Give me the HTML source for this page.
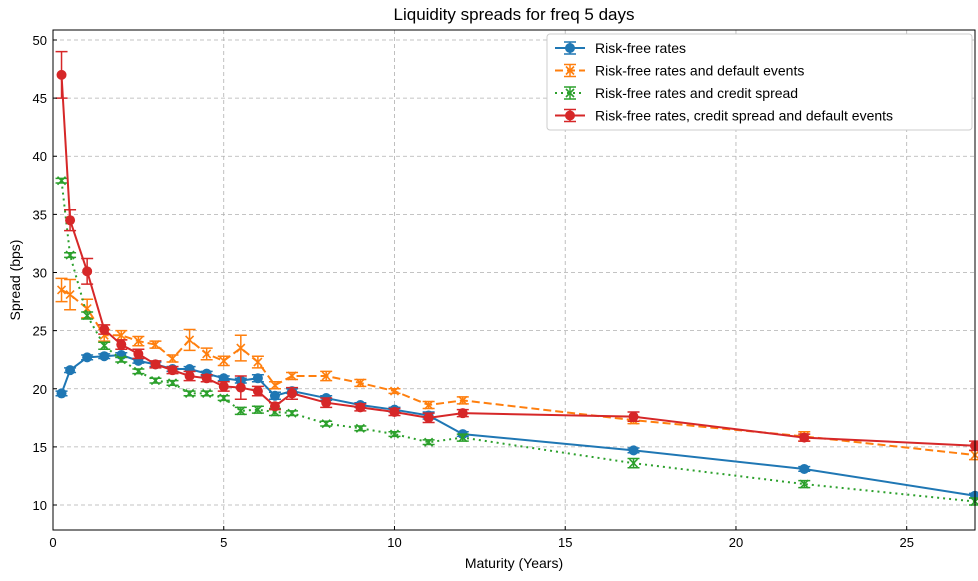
<!DOCTYPE html>
<html><head><meta charset="utf-8"><style>
body{margin:0;background:#fff;font-family:"Liberation Sans","DejaVu Sans",sans-serif}
svg text{font-family:"Liberation Sans","DejaVu Sans",sans-serif;fill:#000}
</style></head><body>
<svg id="chart" width="978" height="576" xmlns="http://www.w3.org/2000/svg">
<text x="514" y="20" font-size="17" text-anchor="middle">Liquidity spreads for freq 5 days</text>
<g id="grid"></g><g id="series"></g><g id="axes"></g>
<text x="514" y="568" font-size="14" text-anchor="middle">Maturity (Years)</text>
<text transform="translate(20,280) rotate(-90)" font-size="14" text-anchor="middle">Spread (bps)</text>
<g id="legend"></g>
</svg>
<script>
const maturities=[0.25,0.5,1,1.5,2,2.5,3,3.5,4,4.5,5,5.5,6,6.5,7,8,9,10,11,12,17,22,27];
const riskFree=[19.6,21.6,22.7,22.8,22.9,22.4,22.1,21.7,21.7,21.3,20.9,20.7,20.9,19.4,19.8,19.2,18.6,18.2,17.7,16.1,14.7,13.1,10.8];
const riskFreeErr=[0.2,0.2,0.2,0.2,0.2,0.2,0.2,0.2,0.2,0.2,0.2,0.2,0.3,0.3,0.2,0.2,0.2,0.2,0.3,0.2,0.2,0.2,0.2];
const defaultEv=[28.5,28.1,26.9,24.6,24.6,24.1,23.8,22.6,24.2,23.0,22.4,23.5,22.3,20.3,21.1,21.1,20.5,19.8,18.6,19.0,17.3,15.9,14.3];
const defaultErr=[1.0,1.3,0.8,0.5,0.4,0.4,0.3,0.3,0.9,0.5,0.4,1.1,0.5,0.3,0.3,0.4,0.3,0.2,0.3,0.3,0.3,0.4,0.4];
const creditSp=[37.9,31.5,26.3,23.7,22.5,21.5,20.7,20.5,19.6,19.6,19.2,18.1,18.2,18.0,17.9,17.0,16.6,16.1,15.4,15.8,13.6,11.8,10.3];
const creditErr=[0.2,0.2,0.3,0.3,0.2,0.2,0.2,0.2,0.2,0.2,0.2,0.3,0.3,0.3,0.2,0.2,0.2,0.2,0.2,0.3,0.4,0.3,0.3];
const allCombo=[47.0,34.5,30.1,25.1,23.8,23.0,22.1,21.6,21.1,20.9,20.2,20.1,19.8,18.5,19.6,18.8,18.4,18.0,17.5,17.9,17.6,15.8,15.1];
const allErr=[2.0,0.9,1.1,0.4,0.4,0.4,0.3,0.3,0.4,0.3,0.4,1.0,0.4,0.3,0.5,0.4,0.3,0.3,0.4,0.3,0.4,0.3,0.4];
const xTicks=[0,5,10,15,20,25];
const yTicks=[10,15,20,25,30,35,40,45,50];
const NS="http://www.w3.org/2000/svg";
const L=53,R=975,T=30,B=530,X0=0,X1=27,Y0=7.85,Y1=50.86;
const sx=v=>L+(v-X0)/(X1-X0)*(R-L), sy=v=>B-(v-Y0)/(Y1-Y0)*(B-T);
function mk(tag,attrs,parent){const e=document.createElementNS(NS,tag);for(const k in attrs)e.setAttribute(k,attrs[k]);parent.appendChild(e);return e;}
const grid=document.getElementById('grid'),axes=document.getElementById('axes'),ser=document.getElementById('series'),leg=document.getElementById('legend');
xTicks.forEach(t=>{
 const g=mk('line',{x1:sx(t),x2:sx(t),y1:T,y2:B,stroke:'#b0b0b0','stroke-dasharray':'4,3','stroke-width':0.8},grid);
 
 mk('line',{x1:sx(t),x2:sx(t),y1:B,y2:B-4,stroke:'#000'},axes);
 const tx=mk('text',{x:sx(t),y:B+17,'font-size':13,'text-anchor':'middle'},axes);tx.textContent=t;
 
});
yTicks.forEach(t=>{
 const g=mk('line',{x1:L,x2:R,y1:sy(t),y2:sy(t),stroke:'#b0b0b0','stroke-dasharray':'4,3','stroke-width':0.8},grid);
 
 mk('line',{x1:L,x2:L+4,y1:sy(t),y2:sy(t),stroke:'#000'},axes);
 const tx=mk('text',{x:L-6,y:sy(t)+5,'font-size':13,'text-anchor':'end'},axes);tx.textContent=t;
 
});
const fr=mk('rect',{x:L,y:T,width:R-L,height:B-T,fill:'none',stroke:'#000','stroke-width':1},axes);

function marker(g,x,y,type,c){
 if(type==='o')mk('circle',{cx:x,cy:y,r:5,fill:c},g);
 else{mk('path',{d:`M${x-4},${y-4}L${x+4},${y+4}M${x-4},${y+4}L${x+4},${y-4}`,stroke:c,'stroke-width':1.6},g);}
}
const series=[
 {name:'Risk-free rates',v:riskFree,e:riskFreeErr,c:'#1f77b4',dash:'',m:'o',id:'risk-free'},
 {name:'Risk-free rates and default events',v:defaultEv,e:defaultErr,c:'#ff7f0e',dash:'8,4',m:'x',id:'default-events'},
 {name:'Risk-free rates and credit spread',v:creditSp,e:creditErr,c:'#2ca02c',dash:'2,4',m:'x',id:'credit-spread'},
 {name:'Risk-free rates, credit spread and default events',v:allCombo,e:allErr,c:'#d62728',dash:'',m:'o',id:'credit-default'}];
series.forEach(s=>{
 const g=mk('g',{},ser);
 
 const pts=maturities.map((m,i)=>sx(m)+','+sy(s.v[i])).join(' ');
 mk('polyline',{points:pts,fill:'none',stroke:s.c,'stroke-width':2,'stroke-dasharray':s.dash},g);
 maturities.forEach((m,i)=>{
  const x=sx(m),y1=sy(s.v[i]-s.e[i]),y2=sy(s.v[i]+s.e[i]);
  mk('path',{d:`M${x},${y1}L${x},${y2}M${x-6},${y1}L${x+6},${y1}M${x-6},${y2}L${x+6},${y2}`,stroke:s.c,'stroke-width':1.5},g);
  const p=mk('g',{},g);
  
  marker(p,x,sy(s.v[i]),s.m,s.c);
 });
});
mk('rect',{x:547,y:34,width:425,height:96,fill:'#fff',stroke:'#ccc',rx:3},leg);
series.forEach((s,i)=>{
 const y=48+i*22.5;const g=mk('g',{},leg);
 
 mk('line',{x1:555,x2:585,y1:y,y2:y,stroke:s.c,'stroke-width':2,'stroke-dasharray':s.dash},g);
 mk('path',{d:`M570,${y-6}L570,${y+6}M564,${y-6}L576,${y-6}M564,${y+6}L576,${y+6}`,stroke:s.c,'stroke-width':1.5},g);
 marker(g,570,y,s.m,s.c);
 const t=mk('text',{x:595,y:y+5,'font-size':14},g);t.textContent=s.name;
});
</script>
</body></html>
